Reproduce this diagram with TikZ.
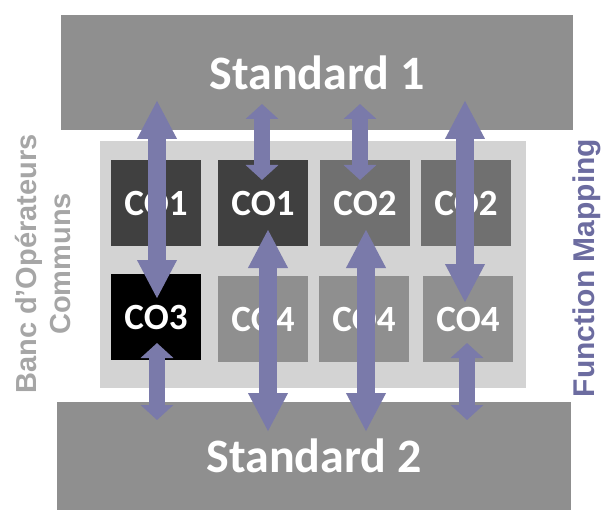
\documentclass[tikz,border=0pt]{standalone}
\usepackage{fontspec}
\setmainfont{Carlito}
\newfontfamily\arialfont{Liberation Sans}
\usetikzlibrary{arrows.meta}
\definecolor{stdgray}{RGB}{143,143,143}
\definecolor{bankgray}{RGB}{211,211,211}
\definecolor{coa}{RGB}{64,64,64}
\definecolor{cob}{RGB}{112,112,112}
\definecolor{coc}{RGB}{0,0,0}
\definecolor{cod}{RGB}{143,143,143}
\definecolor{mapblue}{RGB}{122,122,170}
\definecolor{labelgray}{RGB}{166,166,166}
\definecolor{labelblue}{RGB}{108,108,160}
\tikzset{
  stdbox/.style={fill=stdgray, inner sep=0pt, minimum width=#1, text=white,
    font=\fontsize{48}{52}\selectfont\bfseries},
  opbox/.style={fill=#1, inner sep=0pt, minimum width=90pt, minimum height=86pt,
    text=white, font=\fontsize{37}{40}\selectfont\bfseries},
  longmap/.style={draw=mapblue, line width=18pt,
    {Triangle[width=37pt,length=39pt]}-{Triangle[width=37pt,length=39pt]}},
  shortmap/.style={draw=mapblue, line width=16pt,
    {Triangle[width=32pt,length=15pt]}-{Triangle[width=32pt,length=15pt]}},
  sidelabel/.style={rotate=90, align=center, text=#1,
    font=\arialfont\fontsize{29}{34}\selectfont\bfseries},
}
\begin{document}
\begin{tikzpicture}[x=1pt,y=-1pt]
      \useasboundingbox (0,0) rectangle (601,510);
      % standards
      \node (std1) [stdbox=512pt, minimum height=115pt] at (317,73) {Standard 1};
      \node (std2) [stdbox=514pt, minimum height=108pt] at (314,456) {Standard 2};
      % banc
      \node (bank) [fill=bankgray, minimum width=426pt, minimum height=247pt] at (313,264.5) {};
      \node (c11) [opbox=coa] at (156,203) {CO1};
      \node (c12) [opbox=coa] at (263,203) {CO1};
      \node (c13) [opbox=cob] at (365,203) {CO2};
      \node (c14) [opbox=cob] at (466,203) {CO2};
      \node (c21) [opbox=coc] at (156,317) {CO3};
      \node (c22) [opbox=cod] at (263,319) {CO4};
      \node (c23) [opbox=cod] at (364,319) {CO4};
      \node (c24) [opbox=cod] at (468,319) {CO4};
      % side labels
      \node (banklabel) [sidelabel=labelgray] at (43,264) {Banc d’Opérateurs\\Communs};
      \node (maplabel) [sidelabel=labelblue, font=\arialfont\fontsize{30}{34}\selectfont\bfseries] at (587,268) {Function Mapping};
      % arrow ends
      \coordinate (a1) at (157,100);
      \coordinate (b1) at (157,299);
      \coordinate (a2) at (157,343);
      \coordinate (b2) at (157,420);
      \coordinate (a3) at (262,104);
      \coordinate (b3) at (262,180);
      \coordinate (a4) at (268,229);
      \coordinate (b4) at (268,432);
      \coordinate (a5) at (360,104);
      \coordinate (b5) at (360,180);
      \coordinate (a6) at (366,229);
      \coordinate (b6) at (366,432);
      \coordinate (a7) at (465,100);
      \coordinate (b7) at (465,303);
      \coordinate (a8) at (467,343);
      \coordinate (b8) at (467,420);
      \draw [longmap] (a1) -- (b1);
      \draw [shortmap] (a2) -- (b2);
      \draw [shortmap] (a3) -- (b3);
      \draw [longmap] (a4) -- (b4);
      \draw [shortmap] (a5) -- (b5);
      \draw [longmap] (a6) -- (b6);
      \draw [longmap] (a7) -- (b7);
      \draw [shortmap] (a8) -- (b8);
    \end{tikzpicture}
\end{document}
